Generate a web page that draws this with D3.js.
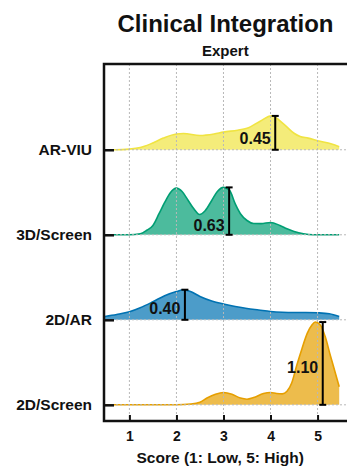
<!DOCTYPE html>
<html>
<head>
<meta charset="utf-8">
<script src="https://cdn.jsdelivr.net/npm/d3@7"></script>
<style>
  html, body { margin: 0; padding: 0; background: #fff; }
  svg { display: block; font-family: "Liberation Sans", Arial, Helvetica, sans-serif; }
</style>
</head>
<body>
<svg id="chart" width="347" height="470"></svg>
<script>
// Ridgeline of expert scores per display modality (bottom row first)
const groups = ["2D/Screen", "2D/AR", "3D/Screen", "AR-VIU"];
const groupColors = ["#E69F00", "#0072B2", "#009E73", "#F0E442"];
const scoreTicks = [1, 2, 3, 4, 5];

// Peak density of each group and the score where it is marked
const peakValues = [1.10, 0.40, 0.63, 0.45];
const peakScores = [5.11, 2.18, 3.12, 4.10];

// Density curves: score positions and density values
const screen2dScores = [0.48, 2.0, 2.3, 2.5, 2.65, 2.83, 3.0, 3.18, 3.36, 3.5, 3.64, 3.85, 4.0, 4.13, 4.25, 4.35, 4.45, 4.56, 4.67, 4.78, 4.88, 4.95, 5.06, 5.16, 5.27, 5.37, 5.46];
const screen2dDensity = [0, 0, 0.01, 0.035, 0.09, 0.14, 0.163, 0.14, 0.09, 0.075, 0.097, 0.15, 0.163, 0.15, 0.146, 0.18, 0.29, 0.53, 0.75, 0.95, 1.06, 1.10, 1.06, 0.91, 0.66, 0.44, 0.24];

const ar2dScores = [0.48, 0.73, 1.0, 1.23, 1.5, 1.75, 2.0, 2.15, 2.3, 2.5, 2.75, 3.0, 3.25, 3.5, 3.75, 4.0, 4.25, 4.5, 4.75, 5.0, 5.25, 5.46];
const ar2dDensity = [0.044, 0.07, 0.106, 0.16, 0.24, 0.32, 0.375, 0.40, 0.375, 0.31, 0.25, 0.21, 0.177, 0.15, 0.13, 0.11, 0.10, 0.097, 0.097, 0.093, 0.08, 0.044];

const screen3dScores = [0.48, 1.0, 1.23, 1.37, 1.5, 1.63, 1.75, 1.87, 2.0, 2.12, 2.25, 2.37, 2.49, 2.61, 2.75, 2.87, 3.0, 3.13, 3.25, 3.36, 3.5, 3.64, 3.8, 4.0, 4.2, 4.35, 4.5, 4.7, 4.9, 5.46];
const screen3dDensity = [0, 0, 0.013, 0.06, 0.124, 0.28, 0.43, 0.56, 0.62, 0.575, 0.456, 0.345, 0.27, 0.32, 0.456, 0.575, 0.63, 0.59, 0.41, 0.28, 0.19, 0.15, 0.148, 0.164, 0.124, 0.08, 0.044, 0.013, 0, 0];

const arViuScores = [0.48, 0.7, 1.0, 1.23, 1.44, 1.72, 2.0, 2.15, 2.5, 2.8, 3.0, 3.3, 3.5, 3.78, 4.02, 4.3, 4.5, 4.63, 4.8, 5.0, 5.3, 5.46];
const arViuDensity = [0, 0, 0.009, 0.03, 0.075, 0.155, 0.21, 0.216, 0.19, 0.21, 0.235, 0.26, 0.285, 0.38, 0.45, 0.33, 0.22, 0.177, 0.155, 0.12, 0.076, 0.04];

const curveScores = [screen2dScores, ar2dScores, screen3dScores, arViuScores];
const curveDensity = [screen2dDensity, ar2dDensity, screen3dDensity, arViuDensity];

// ---- layout ----
const svg = d3.select("#chart");
const plotLeft = 104, plotRight = 352, plotTop = 64, plotBottom = 421;
const rowStep = 1.13;                 // vertical offset between ridges, in density units
const labelLift = [32, 5.5, 4, 6];    // px above the baseline for each value label

const x = d3.scaleLinear().domain([0.46, 5.732]).range([plotLeft, plotRight]);
const y = d3.scaleLinear().domain([-0.215, 4.53]).range([plotBottom, plotTop]);
const base = i => i * rowStep;

const plot = svg.append("g");

// filled ridges
groups.forEach((g, i) => {
  const pts = curveScores[i].map((s, k) => [s, curveDensity[i][k]]);
  const area = d3.area()
    .x(d => x(d[0]))
    .y0(y(base(i)))
    .y1(d => y(base(i) + d[1]))
    .curve(d3.curveMonotoneX);
  const line = d3.line()
    .x(d => x(d[0]))
    .y(d => y(base(i) + d[1]))
    .curve(d3.curveMonotoneX);
  plot.append("path").attr("d", area(pts))
    .attr("fill", groupColors[i]).attr("fill-opacity", 0.7);
  plot.append("path").attr("d", line(pts))
    .attr("fill", "none").attr("stroke", groupColors[i]).attr("stroke-width", 1.6);
});

// dotted grid
const grid = svg.append("g").attr("stroke", "#b8b8b8").attr("stroke-width", 1)
  .attr("stroke-dasharray", "2,2");
grid.selectAll("line.v").data(scoreTicks).join("line")
  .attr("x1", d => x(d)).attr("x2", d => x(d))
  .attr("y1", plotTop).attr("y2", plotBottom);
grid.selectAll("line.h").data(groups).join("line")
  .attr("x1", plotLeft).attr("x2", plotRight)
  .attr("y1", (d, i) => y(base(i))).attr("y2", (d, i) => y(base(i)));

// peak markers with value labels
groups.forEach((g, i) => {
  const mx = x(peakScores[i]);
  const y0 = y(base(i)), y1 = y(base(i) + peakValues[i]);
  const m = svg.append("g").attr("stroke", "#000").attr("stroke-width", 2);
  m.append("line").attr("x1", mx).attr("x2", mx).attr("y1", y0).attr("y2", y1);
  m.append("line").attr("x1", mx - 3.5).attr("x2", mx + 3.5).attr("y1", y1).attr("y2", y1);
  m.append("line").attr("x1", mx - 3.5).attr("x2", mx + 3.5).attr("y1", y0).attr("y2", y0);
  svg.append("text")
    .attr("x", mx - 4.5).attr("y", y0 - labelLift[i])
    .attr("text-anchor", "end")
    .attr("font-size", 16).attr("font-weight", "bold").attr("fill", "#111")
    .text(peakValues[i].toFixed(2));
});

// axes
const xAxis = d3.axisBottom(x).tickValues(scoreTicks).tickFormat(d3.format("d"))
  .tickSizeInner(-6).tickSizeOuter(0).tickPadding(10);
const gx = svg.append("g").attr("transform", `translate(0,${plotBottom})`).call(xAxis);
gx.select(".domain").remove();
gx.selectAll(".tick line").attr("stroke", "#111").attr("stroke-width", 2);
gx.selectAll(".tick text").attr("font-size", 14).attr("font-weight", "bold")
  .attr("fill", "#111").attr("font-family", "Liberation Sans, Arial, sans-serif");

const yAxis = d3.axisLeft(y).tickValues(groups.map((g, i) => base(i)))
  .tickFormat((d, i) => groups[i]).tickSizeInner(-10).tickSizeOuter(0).tickPadding(12);
const gy = svg.append("g").attr("transform", `translate(${plotLeft},0)`).call(yAxis);
gy.select(".domain").remove();
gy.selectAll(".tick line").attr("stroke", "#111").attr("stroke-width", 2.5);
gy.selectAll(".tick text").attr("font-size", 15.5).attr("font-weight", "bold")
  .attr("fill", "#111").attr("font-family", "Liberation Sans, Arial, sans-serif");

// spines
const spine = svg.append("g").attr("stroke", "#111").attr("stroke-width", 2.5)
  .attr("stroke-linecap", "square").attr("fill", "none");
spine.append("path")
  .attr("d", `M${plotRight},${plotTop}H${plotLeft}V${plotBottom}H${plotRight}`);

// titles
svg.append("text").attr("x", 225.5).attr("y", 32.3).attr("text-anchor", "middle")
  .attr("font-size", 24).attr("font-weight", "bold").attr("fill", "#111")
  .text("Clinical Integration");
svg.append("text").attr("x", 225.3).attr("y", 55.7).attr("text-anchor", "middle")
  .attr("font-size", 15).attr("font-weight", "bold").attr("fill", "#111")
  .text("Expert");
svg.append("text").attr("x", 220.2).attr("y", 462.7).attr("text-anchor", "middle")
  .attr("font-size", 15.5).attr("font-weight", "bold").attr("fill", "#111")
  .text("Score (1: Low, 5: High)");
</script>
</body>
</html>
